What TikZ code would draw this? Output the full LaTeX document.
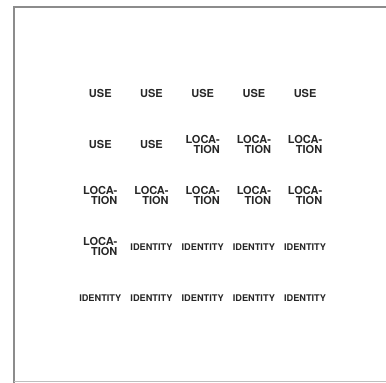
\documentclass[tikz,border=0pt]{standalone}
\usepackage{fontspec}
\setmainfont{TeX Gyre Heros}
\usepackage{tikz}
\usetikzlibrary{positioning}
\tikzset{
  cellu/.style={font=\bfseries\fontsize{11}{10}\selectfont, text=black!85, inner sep=0pt},
  celll/.style={cellu, align=right},
  celli/.style={font=\bfseries\fontsize{9.2}{9}\selectfont, text=black!85, inner sep=0pt},
}
\newcommand\txtu{USE}
\newcommand\txtl{LOCA-\\TION}
\newcommand\txti{IDENTITY}

\begin{document}
\begin{tikzpicture}[x=1pt, y=-1pt]
    \useasboundingbox (0,0) rectangle (386,383);
    % frame
    \draw[black!45, line width=2pt] (13.5,383)--(13.5,7)--(386,7);
    \draw[black!25, line width=1pt] (13.5,381)--(386,381);
    % cells
    \foreach \row [count=\r] in {{u,u,u,u,u},{u,u,l,l,l},{l,l,l,l,l},{l,i,i,i,i},{i,i,i,i,i}}
      \foreach \k [count=\c] in \row
        \node[cell\k] (c\r\c) at ({49.1+51.2*\c}, {41.75+51.25*\r}) {\csname txt\k\endcsname};
\end{tikzpicture}
\end{document}
